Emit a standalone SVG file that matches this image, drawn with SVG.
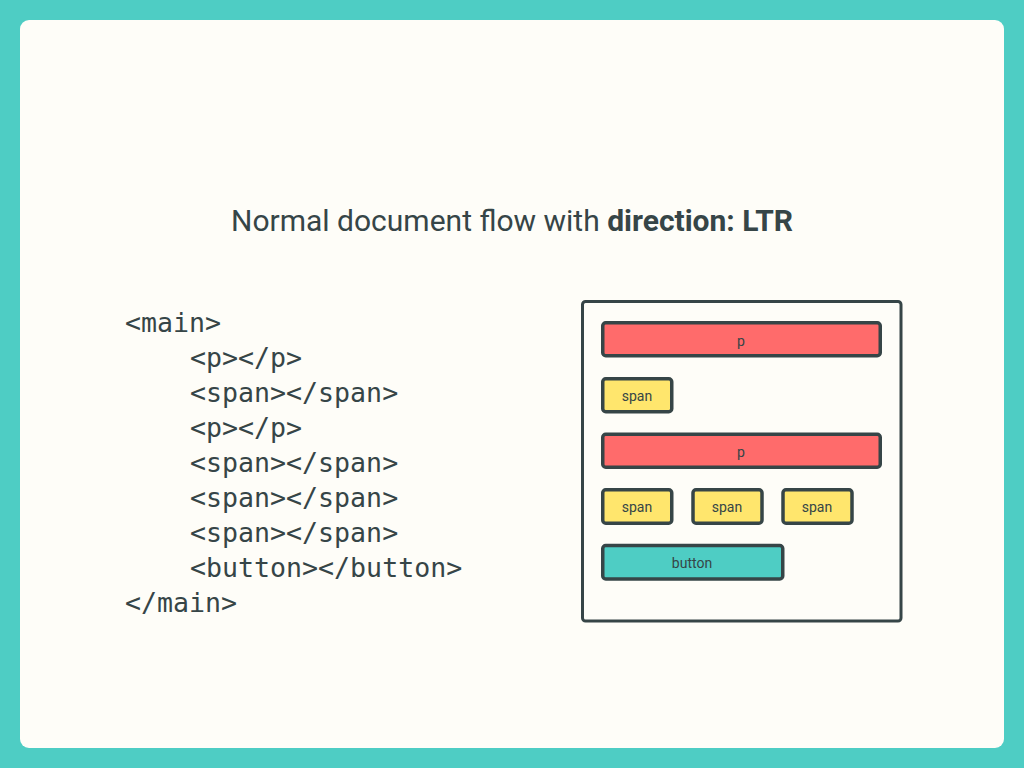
<svg xmlns="http://www.w3.org/2000/svg" width="1024" height="768" viewBox="0 0 1024 768">
<style>
.bg{fill:#4ecdc4}
.card{fill:#fefdf8}
.title{font-family:Roboto,"Liberation Sans",sans-serif;font-size:30px;fill:#364547}
.code{font-family:"DejaVu Sans Mono","Liberation Mono",monospace;font-size:26.6px;fill:#364547}
.frame{fill:none;stroke:#364547;stroke-width:3}
.box{stroke:#364547;stroke-width:3.5}
.p{fill:#ff6b6b}
.span{fill:#ffe66d}
.btn{fill:#4ecdc4}
.lbl{font-family:Roboto,"Liberation Sans",sans-serif;font-size:14px;fill:#364547;text-anchor:middle}
</style>
<rect class="bg" x="0" y="0" width="1024" height="768"/>
<rect class="card" x="20" y="20" width="984" height="728" rx="9"/>
<text class="title" x="512" y="231" text-anchor="middle">Normal document flow with <tspan font-weight="bold">direction: LTR</tspan></text>
<g id="code">
<text class="code" x="125" y="332">&lt;main&gt;</text>
<text class="code" x="190" y="367">&lt;p&gt;&lt;/p&gt;</text>
<text class="code" x="190" y="402">&lt;span&gt;&lt;/span&gt;</text>
<text class="code" x="190" y="437">&lt;p&gt;&lt;/p&gt;</text>
<text class="code" x="190" y="472">&lt;span&gt;&lt;/span&gt;</text>
<text class="code" x="190" y="507">&lt;span&gt;&lt;/span&gt;</text>
<text class="code" x="190" y="542">&lt;span&gt;&lt;/span&gt;</text>
<text class="code" x="190" y="577">&lt;button&gt;&lt;/button&gt;</text>
<text class="code" x="125" y="612">&lt;/main&gt;</text>
</g>
<g id="main">
<rect class="frame" x="582.5" y="301.5" width="318.5" height="319.5" rx="3"/>
</g>
<g id="p1"><rect class="box p" x="602.75" y="322.75" width="277.5" height="33" rx="3"/><text class="lbl" x="741" y="346">p</text></g>
<g id="span1"><rect class="box span" x="602.75" y="378.75" width="69" height="33" rx="3"/><text class="lbl" x="637" y="401">span</text></g>
<g id="p2"><rect class="box p" x="602.75" y="434.25" width="277.5" height="33" rx="3"/><text class="lbl" x="741" y="457">p</text></g>
<g id="span2"><rect class="box span" x="602.75" y="489.75" width="69" height="33.5" rx="3"/><text class="lbl" x="637" y="512">span</text></g>
<g id="span3"><rect class="box span" x="693" y="489.75" width="69" height="33.5" rx="3"/><text class="lbl" x="727" y="512">span</text></g>
<g id="span4"><rect class="box span" x="783" y="489.75" width="69" height="33.5" rx="3"/><text class="lbl" x="817" y="512">span</text></g>
<g id="button"><rect class="box btn" x="602.75" y="545.5" width="180" height="33.5" rx="3"/><text class="lbl" x="692" y="568">button</text></g>
<g id="connectors"></g>
</svg>
